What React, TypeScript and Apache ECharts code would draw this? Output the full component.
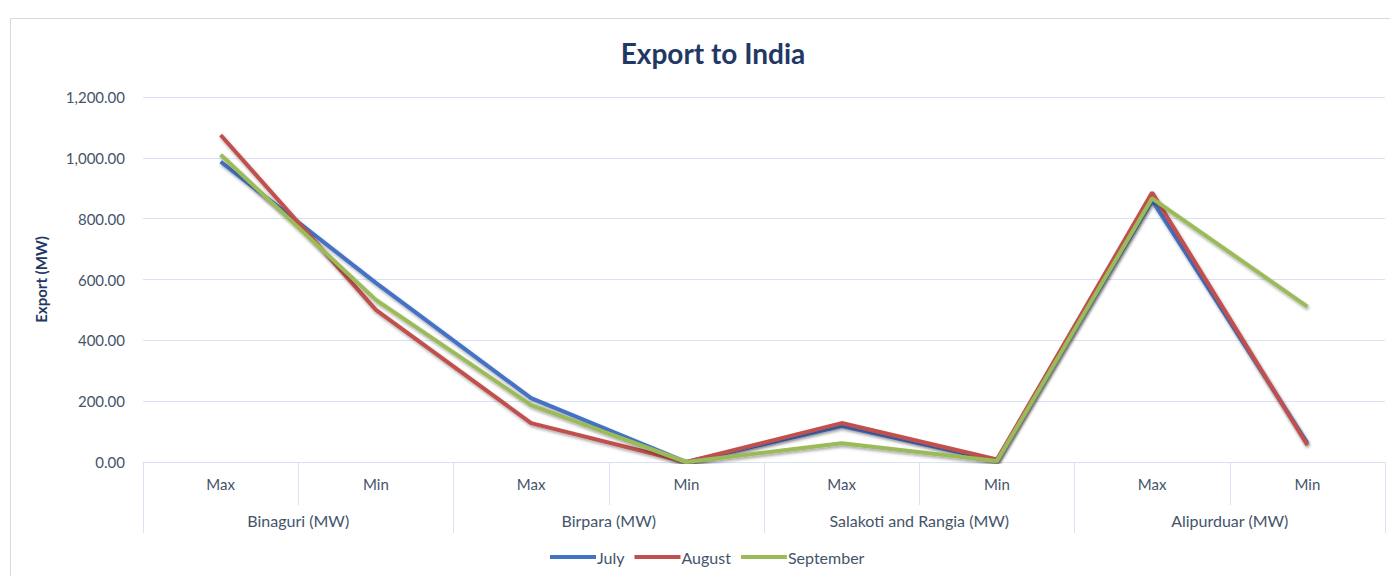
import React, { useEffect, useRef } from "react";
import * as echarts from "echarts";

const subCategories = ["Max", "Min", "Max", "Min", "Max", "Min", "Max", "Min"];
const groupCategories = ["Binaguri (MW)", "Birpara (MW)", "Salakoti and Rangia (MW)", "Alipurduar (MW)"];
const julyValues = [987, 589, 210, 0, 118, 5, 860, 62];
const augustValues = [1075, 500, 128, 0, 128, 8, 886, 56];
const septemberValues = [1010, 533, 187, 0, 62, 3, 867, 511];
const seriesNames = ["July", "August", "September"];
const seriesColors = ["#4472C4", "#C0504D", "#9BBB59"];

const FONT = "Lato, 'Open Sans', sans-serif";
const LABEL_COLOR = "#44546A";
const GRID_COLOR = "#D9E1F2";

export default function App() {
  const ref = useRef<HTMLDivElement>(null);
  useEffect(() => {
    if (!ref.current) return;
    const chart = echarts.init(ref.current, null, { renderer: "svg" });
    const data = [julyValues, augustValues, septemberValues];
    chart.setOption({
      animation: false,
      backgroundColor: "#ffffff",
      textStyle: { fontFamily: FONT },
      graphic: [
        {
          type: "rect",
          shape: { x: 10.5, y: 18.5, width: 1400, height: 620 },
          style: { fill: "none", stroke: "#D9D9D9", lineWidth: 1 },
          silent: true,
        },
      ],
      title: {
        text: "Export to India",
        left: 708,
        textAlign: "center",
        top: 34,
        textStyle: { fontFamily: FONT, fontSize: 28, fontWeight: "bold", color: "#1F3864" },
      },
      legend: {
        bottom: 6,
        left: 545,
        itemWidth: 46,
        itemHeight: 4,
        itemGap: 10,
        icon: "rect",
        textStyle: { fontFamily: FONT, fontSize: 16, color: LABEL_COLOR, padding: [0, 0, 0, -4] },
        data: seriesNames,
      },
      grid: { left: 143, right: 5, top: 97, bottom: 114, containLabel: false },
      xAxis: [
        {
          type: "category",
          data: subCategories,
          boundaryGap: true,
          axisLine: { show: true, lineStyle: { color: GRID_COLOR, width: 1 } },
          axisTick: { show: true, interval: 0, length: 43, lineStyle: { color: GRID_COLOR } },
          axisLabel: { interval: 0, margin: 14, fontFamily: FONT, fontSize: 15, color: LABEL_COLOR },
          splitLine: { show: false },
        },
        {
          type: "category",
          data: groupCategories,
          position: "bottom",
          boundaryGap: true,
          axisLine: { show: false },
          axisTick: { show: true, interval: 0, length: 71, lineStyle: { color: GRID_COLOR } },
          axisLabel: { interval: 0, margin: 50, fontFamily: FONT, fontSize: 16, color: LABEL_COLOR },
          splitLine: { show: false },
        },
      ],
      yAxis: {
        type: "value",
        min: 0,
        max: 1200,
        interval: 200,
        name: "Export (MW)",
        nameLocation: "middle",
        nameGap: 95,
        nameTextStyle: { fontFamily: FONT, fontSize: 15, fontWeight: "bold", color: "#1F3864" },
        axisLine: { show: false },
        axisTick: { show: false },
        axisLabel: {
          margin: 18,
          fontFamily: FONT,
          fontSize: 15,
          color: LABEL_COLOR,
          formatter: (v: number) =>
            v.toLocaleString("en-US", { minimumFractionDigits: 2, maximumFractionDigits: 2 }),
        },
        splitLine: { show: true, lineStyle: { color: GRID_COLOR, width: 1 } },
      },
      series: seriesNames.map((name, i) => ({
        name,
        type: "line",
        xAxisIndex: 0,
        data: data[i],
        symbol: "none",
        color: seriesColors[i],
        lineStyle: {
          width: 4,
          color: seriesColors[i],
          shadowBlur: 3,
          shadowColor: "rgba(0,0,0,0.35)",
          shadowOffsetX: 1,
          shadowOffsetY: 2,
        },
      })),
    });
    return () => chart.dispose();
  }, []);
  return (
    <div
      ref={ref}
      style={{ position: "absolute", left: 0, top: 0, width: 1390, height: 576 }}
    />
  );
}
